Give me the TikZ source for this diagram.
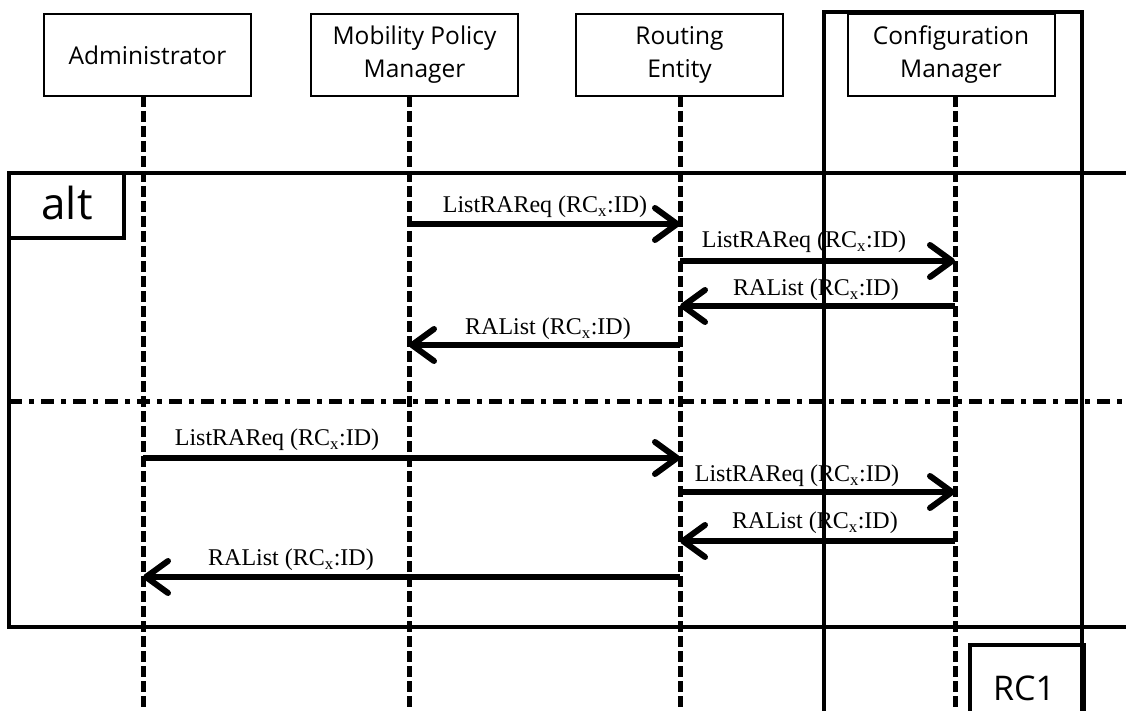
\documentclass[tikz,border=0pt]{standalone}
\usepackage{fontspec}
\setmainfont{Liberation Serif}
\newfontfamily\boxfont{Open Sans}
\usetikzlibrary{arrows.meta}
\begin{document}
\begin{tikzpicture}[x=1pt,y=-1pt,
  actor/.style={draw, line width=2pt, minimum width=207pt, minimum height=82pt,
    inner sep=0pt, align=center, font=\boxfont\fontsize{24.5}{33}\selectfont},
  life/.style={line width=5pt, dash pattern=on 11pt off 4pt},
  msg/.style={line width=6pt, -{Straight Barb[length=22pt,width=32pt,round]}},
  lbl/.style={font=\fontsize{24}{28}\selectfont, inner sep=0pt},
  frame/.style={line width=3.5pt},
  altline/.style={line width=5pt, dash pattern=on 13pt off 7pt on 5pt off 7pt}
]
\useasboundingbox (0,0) rectangle (1126,711);
\clip (0,0) rectangle (1126,711);
\fill[white] (0,0) rectangle (1126,711);

% RC1 frame
\draw[frame] (824,730) -- (824,12) -- (1082,12) -- (1082,730);
\node[draw, line width=3.5pt, minimum width=114pt, minimum height=90pt, anchor=north west,
  inner sep=0pt] (rcbox) at (968,643) {};
\node[font=\boxfont\fontsize{34}{38}\selectfont] (rc) at (1024,688) {RC1};

% actors
\node[actor] (adm) at (147.5,55) {Administrator};
\node[actor] (mpm) at (414.5,55) {Mobility Policy\\Manager};
\node[actor] (re)  at (679.5,55) {Routing\\Entity};
\node[actor] (cm)  at (951,55)   {Configuration\\Manager};

\coordinate (admL) at (143,96);
\coordinate (mpmL) at (409,96);
\coordinate (reL)  at (680,96);
\coordinate (cmL)  at (955,96);

% lifelines
\foreach \c in {admL,mpmL,reL,cmL}
  \draw[life] (\c) -- (\c |- 0,720);

% alt frame
\draw[frame] (1140,173) -- (9,173) -- (9,627) -- (1140,627);
\draw[frame] (9,173) rectangle (124,238);
\node[font=\boxfont\fontsize{44}{48}\selectfont] (alt) at (67,203) {alt};
\draw[altline] (9,401) -- (1140,401);

% messages, first operand
\draw[msg] (mpmL |- 0,224) -- (reL |- 0,224);
\node[lbl] (l1) at (545,207) {ListRAReq (RC\textsubscript{x}:ID)};
\draw[msg] (reL |- 0,261) -- (cmL |- 0,261);
\node[lbl] (l2) at (804,242) {ListRAReq (RC\textsubscript{x}:ID)};
\draw[msg] (cmL |- 0,306) -- (reL |- 0,306);
\node[lbl] (l3) at (816,290) {RAList (RC\textsubscript{x}:ID)};
\draw[msg] (reL |- 0,345) -- (mpmL |- 0,345);
\node[lbl] (l4) at (548,329) {RAList (RC\textsubscript{x}:ID)};

% messages, second operand
\draw[msg] (admL |- 0,458) -- (reL |- 0,458);
\node[lbl] (l5) at (277,440) {ListRAReq (RC\textsubscript{x}:ID)};
\draw[msg] (reL |- 0,492) -- (cmL |- 0,492);
\node[lbl] (l6) at (797,476) {ListRAReq (RC\textsubscript{x}:ID)};
\draw[msg] (cmL |- 0,541) -- (reL |- 0,541);
\node[lbl] (l7) at (815,523) {RAList (RC\textsubscript{x}:ID)};
\draw[msg] (reL |- 0,577) -- (admL |- 0,577);
\node[lbl] (l8) at (291,560) {RAList (RC\textsubscript{x}:ID)};
\end{tikzpicture}
\end{document}
